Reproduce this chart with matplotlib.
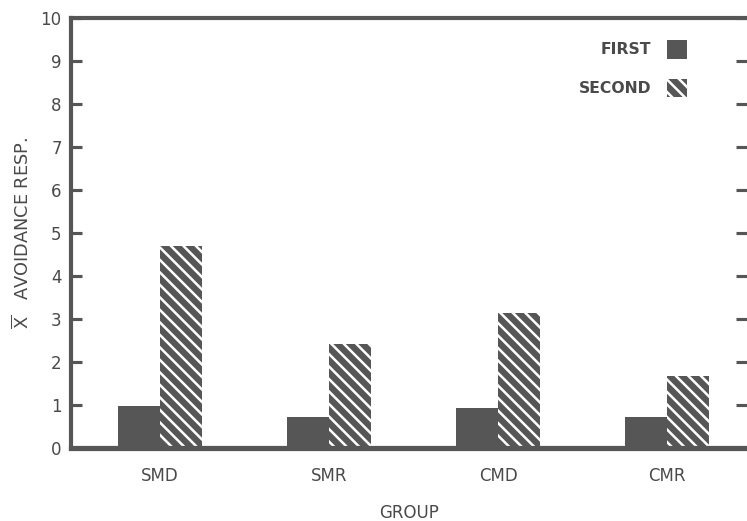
import matplotlib
matplotlib.use('Agg')
import matplotlib.pyplot as plt
import numpy as np

groups = ['SMD', 'SMR', 'CMD', 'CMR']
first = [0.97, 0.72, 0.92, 0.71]
second = [4.7, 2.42, 3.15, 1.68]
series_names = ['FIRST', 'SECOND']
y_ticks = list(range(0, 11))

GREY = '#565656'
TEXT = '#4a4a4a'


def render():
    plt.rcParams['hatch.linewidth'] = 2.4
    plt.rcParams['hatch.color'] = 'white'
    plt.rcParams['mathtext.fontset'] = 'dejavusans'

    fig = plt.figure(figsize=(747 / 75, 521 / 75), dpi=75)
    ax = fig.add_axes([71 / 747, 1 - 448 / 521, 1 - 71 / 747, (448 - 18) / 521])

    x = np.arange(len(groups))
    w = 0.25
    ax.bar(x - w / 2, first, width=w, color=GREY, linewidth=0, label=series_names[0])
    ax.bar(x + w / 2, second, width=w, color=GREY, edgecolor='white', linewidth=0,
           hatch='\\\\', label=series_names[1])

    ax.set_xlim(-0.527, 3.473)
    ax.set_ylim(0, 10)
    ax.set_yticks(y_ticks)
    ax.set_xticks(x)
    ax.set_xticklabels(groups)

    for side in ['left', 'top', 'bottom']:
        ax.spines[side].set_color(GREY)
        ax.spines[side].set_linewidth(4)
    ax.spines['bottom'].set_linewidth(5)
    ax.spines['right'].set_visible(False)

    ax.tick_params(axis='y', direction='in', length=11, width=3, color=GREY,
                   labelsize=16, labelcolor=TEXT, pad=9, right=True)
    ax.tick_params(axis='x', length=0, pad=18, labelsize=16, labelcolor=TEXT)

    ax.set_xlabel('GROUP', fontsize=16, color=TEXT, labelpad=18)
    ax.set_ylabel(r'$\overline{\mathrm{X}}$   AVOIDANCE RESP.', fontsize=17,
                  color=TEXT, labelpad=7)

    leg = ax.legend(loc='upper right', bbox_to_anchor=(687 / 747, 1 - 40 / 521),
                    bbox_transform=fig.transFigure, frameon=False, markerfirst=False,
                    fontsize=15, handlelength=1.3, handleheight=1.45,
                    handletextpad=1.0, labelspacing=1.3, borderpad=0, borderaxespad=0)
    for t in leg.get_texts():
        t.set_color(TEXT)
        t.set_fontweight('bold')

    fig.savefig('out.png', dpi=75, facecolor='white')


def main():
    render()


if __name__ == '__main__':
    main()
